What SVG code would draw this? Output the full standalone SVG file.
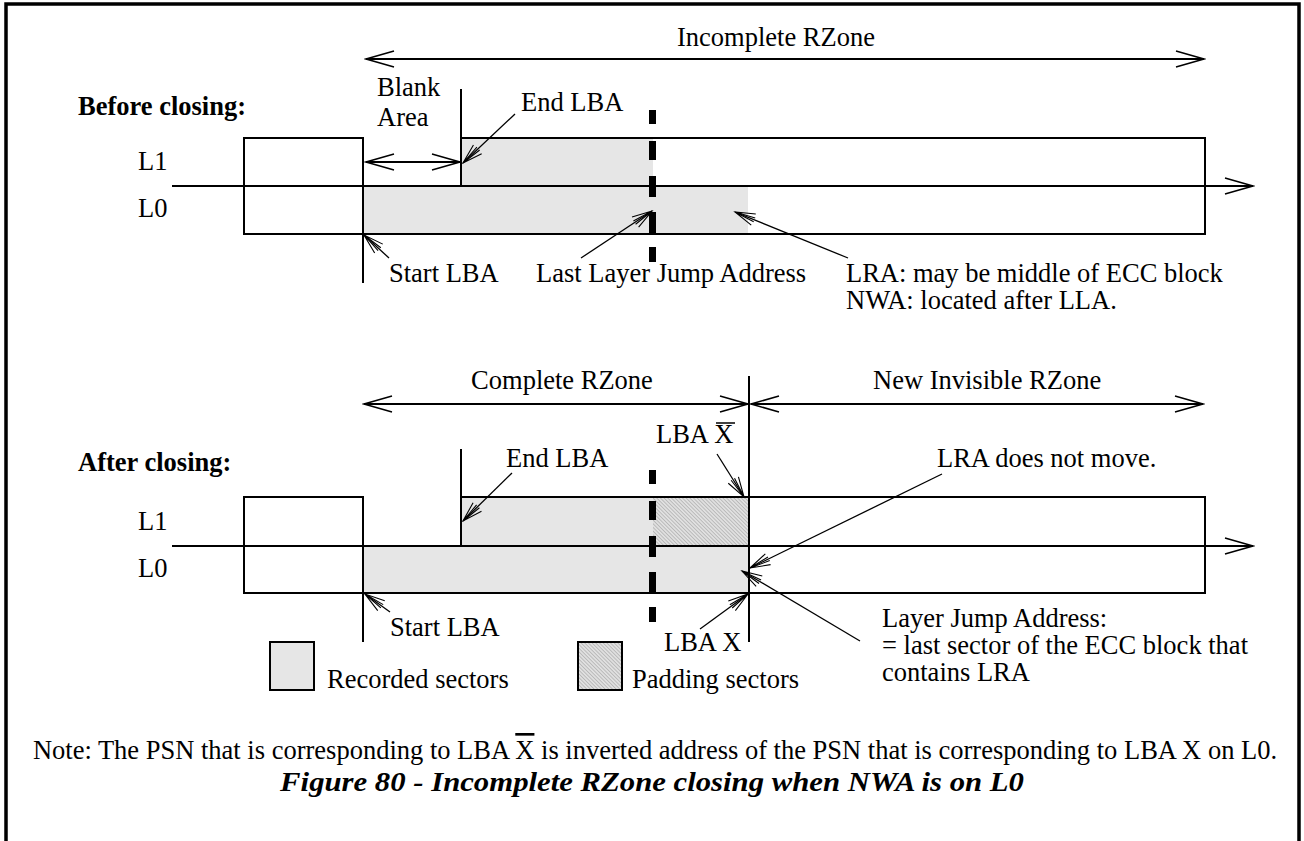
<svg xmlns="http://www.w3.org/2000/svg" width="1304" height="841" viewBox="0 0 1304 841">
<defs>
<style>
.t{font-family:"Liberation Serif","Times New Roman",serif;font-size:26.5px;fill:#000}
.b{font-weight:bold}
.ln{stroke:#000;stroke-width:2;fill:none}
.th{stroke:#000;stroke-width:1.3;fill:none}
.rec{fill:#e6e6e6}
.pad{fill:url(#hatch)}
.dash{fill:#000}
</style>
<marker id="ah" markerUnits="userSpaceOnUse" viewBox="-32 -10 34 20" refX="0" refY="0" markerWidth="34" markerHeight="20" orient="auto-start-reverse">
<path d="M-28,-8 L0,0 L-28,8" fill="none" stroke="#000" stroke-width="1.5"/>
</marker>
<marker id="ph" markerUnits="userSpaceOnUse" viewBox="-24 -8 26 16" refX="0" refY="0" markerWidth="26" markerHeight="16" orient="auto">
<path d="M-20,-6 L0,0 L-20,6 M-21,-2 L0,0 M-21,2 L0,0" fill="none" stroke="#000" stroke-width="1.1"/>
</marker>
<pattern id="hatch" width="2.6" height="2.6" patternUnits="userSpaceOnUse" patternTransform="rotate(-45)">
<rect width="2.6" height="2.6" fill="#e0e0e0"/>
<line x1="0" y1="0" x2="0" y2="2.6" stroke="#909090" stroke-width="0.9"/>
</pattern>
</defs>
<rect width="1304" height="841" fill="#fff"/>
<path d="M6,845 V4 H1299 V845" fill="none" stroke="#000" stroke-width="3.5"/>

<g id="before">
<text class="t b" x="78" y="115">Before closing:</text>
<text class="t" x="138" y="170">L1</text>
<text class="t" x="138" y="217">L0</text>
<g id="before-recorded">
<rect class="rec" x="461" y="138" width="192" height="47"/>
<rect class="rec" x="363" y="185" width="385" height="49"/>
</g>
<g id="before-left-box"><rect class="ln" x="244" y="138" width="119" height="96"/></g>
<g id="before-main-box"><path class="ln" d="M461,138 H1205 V234 H363"/></g>
<g id="before-lines">
<line class="ln" x1="461" y1="89" x2="461" y2="185"/>
<line class="ln" x1="363" y1="138" x2="363" y2="283"/>
</g>
<g id="before-dash">
<rect class="dash" x="649" y="110" width="7" height="14"/>
<rect class="dash" x="649" y="141" width="7" height="19"/>
<rect class="dash" x="649" y="176" width="7" height="21"/>
<rect class="dash" x="649" y="212" width="7" height="21"/>
<rect class="dash" x="649" y="247" width="7" height="15"/>
</g>
<text class="t" x="776" y="46" text-anchor="middle">Incomplete RZone</text>
<text class="t" x="377" y="96">Blank</text>
<text class="t" x="377" y="126">Area</text>
<text class="t" x="521" y="111">End LBA</text>
<text class="t" x="389" y="282">Start LBA</text>
<text class="t" x="536" y="282">Last Layer Jump Address</text>
<text class="t" x="846" y="282">LRA: may be middle of ECC block</text>
<text class="t" x="846" y="309">NWA: located after LLA.</text>
</g>

<g id="after">
<text class="t b" x="78" y="471">After closing:</text>
<text class="t" x="138" y="530">L1</text>
<text class="t" x="138" y="577">L0</text>
<g id="after-recorded">
<rect class="rec" x="461" y="497" width="192" height="49"/>
<rect class="pad" x="653" y="497" width="95" height="49"/>
<rect class="rec" x="363" y="546" width="385" height="47"/>
</g>
<g id="after-left-box"><rect class="ln" x="244" y="497" width="119" height="96"/></g>
<g id="after-main-box"><path class="ln" d="M461,497 H1205 V593 H363"/></g>
<g id="after-lines">
<line class="ln" x1="461" y1="449" x2="461" y2="546"/>
<line class="ln" x1="363" y1="497" x2="363" y2="642"/>
<line class="ln" x1="749" y1="376" x2="749" y2="642"/>
</g>
<g id="after-dash">
<rect class="dash" x="649" y="470" width="7" height="14"/>
<rect class="dash" x="649" y="501" width="7" height="19"/>
<rect class="dash" x="649" y="536" width="7" height="21"/>
<rect class="dash" x="649" y="572" width="7" height="21"/>
<rect class="dash" x="649" y="607" width="7" height="15"/>
</g>
<text class="t" x="562" y="389" text-anchor="middle">Complete RZone</text>
<text class="t" x="873" y="389">New Invisible RZone</text>
<text class="t" x="656" y="443">LBA X</text>
<line x1="716" y1="423" x2="735" y2="423" stroke="#000" stroke-width="1.5"/>
<text class="t" x="506" y="467">End LBA</text>
<text class="t" x="937" y="467">LRA does not move.</text>
<text class="t" x="390" y="636">Start LBA</text>
<text class="t" x="664" y="651">LBA X</text>
<text class="t" x="882" y="627">Layer Jump Address:</text>
<text class="t" x="882" y="654">= last sector of the ECC block that</text>
<text class="t" x="882" y="681">contains LRA</text>
</g>

<g id="legend">
<rect class="rec" x="270" y="642" width="44" height="48" stroke="#000" stroke-width="2"/>
<text class="t" x="327" y="688">Recorded sectors</text>
<rect class="pad" x="578" y="642" width="44" height="48" stroke="#000" stroke-width="2"/>
<text class="t" x="632" y="688">Padding sectors</text>
</g>

<g id="notes">
<text class="t" x="655" y="759" text-anchor="middle" font-size="27">Note: The PSN that is corresponding to LBA <tspan style="text-decoration:overline">X</tspan> is inverted address of the PSN that is corresponding to LBA X on L0.</text>
<text class="t b" transform="translate(652,791) scale(1.16,1)" x="0" y="0" text-anchor="middle" font-style="italic" font-size="34">Figure 80 - Incomplete RZone closing when NWA is on L0</text>
</g>

<g id="connectors">
<line class="ln" x1="172" y1="186" x2="1253" y2="186" marker-end="url(#ah)"/>
<line class="ln" x1="172" y1="546" x2="1253" y2="546" marker-end="url(#ah)"/>
<line class="ln" x1="366" y1="59" x2="1204" y2="59" marker-start="url(#ah)" marker-end="url(#ah)"/>
<line class="ln" x1="366" y1="162" x2="460" y2="162" marker-start="url(#ah)" marker-end="url(#ah)"/>
<line class="ln" x1="364" y1="404" x2="748" y2="404" marker-start="url(#ah)" marker-end="url(#ah)"/>
<line class="ln" x1="751" y1="404" x2="1203" y2="404" marker-start="url(#ah)" marker-end="url(#ah)"/>
<line class="th" x1="515" y1="114" x2="463" y2="163" marker-end="url(#ph)"/>
<line class="th" x1="389" y1="258" x2="364" y2="235" marker-end="url(#ph)"/>
<line class="th" x1="581" y1="258" x2="652" y2="211" marker-end="url(#ph)"/>
<line class="th" x1="848" y1="258" x2="735" y2="212" marker-end="url(#ph)"/>
<line class="th" x1="512" y1="473" x2="463" y2="521" marker-end="url(#ph)"/>
<line class="th" x1="717" y1="454" x2="744" y2="497" marker-end="url(#ph)"/>
<line class="th" x1="942" y1="474" x2="750" y2="568" marker-end="url(#ph)"/>
<line class="th" x1="860" y1="641" x2="742" y2="571" marker-end="url(#ph)"/>
<line class="th" x1="390" y1="612" x2="365" y2="594" marker-end="url(#ph)"/>
<line class="th" x1="700" y1="629" x2="748" y2="594" marker-end="url(#ph)"/>
</g>
</svg>
